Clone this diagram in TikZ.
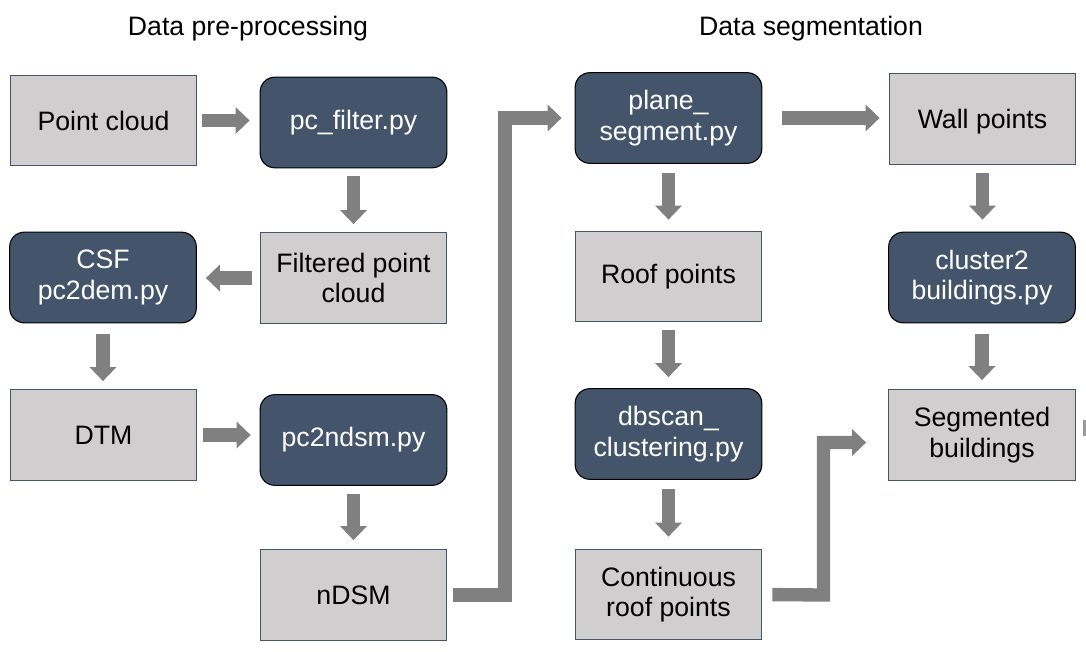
\documentclass[tikz,border=0pt]{standalone}
\usepackage{fontspec}
\setmainfont{Liberation Sans}
\usetikzlibrary{arrows.meta}
\definecolor{darkbox}{HTML}{44546A}
\definecolor{lightbox}{HTML}{D0CECE}
\definecolor{arrowgray}{HTML}{808080}
\tikzset{
  base/.style={minimum width=140pt, minimum height=68pt, align=center, inner sep=2pt,
    font=\fontsize{20}{23}\selectfont},
  lbox/.style={base, fill=lightbox, draw=darkbox, line width=0.8pt},
  dbox/.style={base, fill=darkbox, draw=black, line width=0.8pt, rounded corners=11pt, text=white},
  title/.style={font=\fontsize{20}{23}\selectfont},
  arr/.style={draw=arrowgray, line width=10pt, line join=miter,
    -{Triangle[length=10.5pt,width=19.5pt]}},
}
\begin{document}
\begin{tikzpicture}[x=0.75pt,y=-0.75pt]
\useasboundingbox (0,0) rectangle (1086,652);
\fill[white] (0,0) rectangle (1086,652);

\node[title] (t1) at (248,29) {Data pre-processing};
\node[title] (t2) at (811,29) {Data segmentation};

\node[lbox] (pc) at (103.5,120.5) {Point cloud};
\node[dbox] (pcf) at (353.5,122.5) {pc\_filter.py};
\node[dbox] (csf) at (103,277.5) {CSF\\pc2dem.py};
\node[lbox] (fpc) at (353.5,278) {Filtered point\\cloud};
\node[lbox] (dtm) at (103.5,435) {DTM};
\node[dbox] (ndsmpy) at (353.5,440) {pc2ndsm.py};
\node[lbox] (ndsm) at (353.5,595) {nDSM};

\node[dbox] (plane) at (668.5,118) {plane\_\\segment.py};
\node[lbox] (roof) at (668.5,276.5) {Roof points};
\node[dbox] (dbscan) at (668.5,434) {dbscan\_\\clustering.py};
\node[lbox] (cont) at (668.5,594.5) {Continuous\\roof points};
\node[lbox,text depth=0pt] (wall) at (982.5,119) {Wall points};
\node[dbox] (clus) at (982,277.5) {cluster2\\buildings.py};
\node[lbox] (seg) at (982,435) {Segmented\\buildings};

\coordinate (k1) at (505,595);
\coordinate (k2) at (823.5,595);

\draw[arr, shorten <=3.75pt, shorten >=7.5pt] (pc.east) -- (pc.east -| pcf.west);
\draw[arr, shorten <=6pt, shorten >=6pt] (pcf.south) -- (fpc.north);
\draw[arr, shorten <=6pt, shorten >=6.75pt] (fpc.west) -- (fpc.west -| csf.east);
\draw[arr, shorten <=8.25pt, shorten >=6pt] (csf.south) -- (csf.south |- dtm.north);
\draw[arr, shorten <=4.5pt, shorten >=6.75pt] (dtm.east) -- (dtm.east -| ndsmpy.west);
\draw[arr, shorten <=6pt, shorten >=6.75pt] (ndsmpy.south) -- (ndsm.north);
\draw[arr, shorten <=4.5pt, shorten >=9.75pt] (ndsm.east) -- (k1) -- (k1 |- plane.west) -- (plane.west);

\draw[arr, shorten <=15pt, shorten >=6.75pt] (plane.east) -- (plane.east -| wall.west);
\draw[arr, shorten <=6.75pt, shorten >=8.25pt] (plane.south) -- (roof.north);
\draw[arr, shorten <=6pt, shorten >=8.25pt] (roof.south) -- (dbscan.north);
\draw[arr, shorten <=6.75pt, shorten >=9pt] (dbscan.south) -- (cont.north);
\draw[arr, shorten <=6pt, shorten >=9pt] (wall.south) -- (wall.south |- clus.north);
\draw[arr, shorten <=8.25pt, shorten >=6.75pt] (clus.south) -- (seg.north);
\draw[arr, shorten <=7.5pt, shorten >=16.5pt] (cont.east) -- (k2) -- (k2 |- 0,442.5) -- (seg.west |- 0,442.5);

\fill[arrowgray!80] (1082.5,420) rectangle (1087,436);
\end{tikzpicture}
\end{document}
